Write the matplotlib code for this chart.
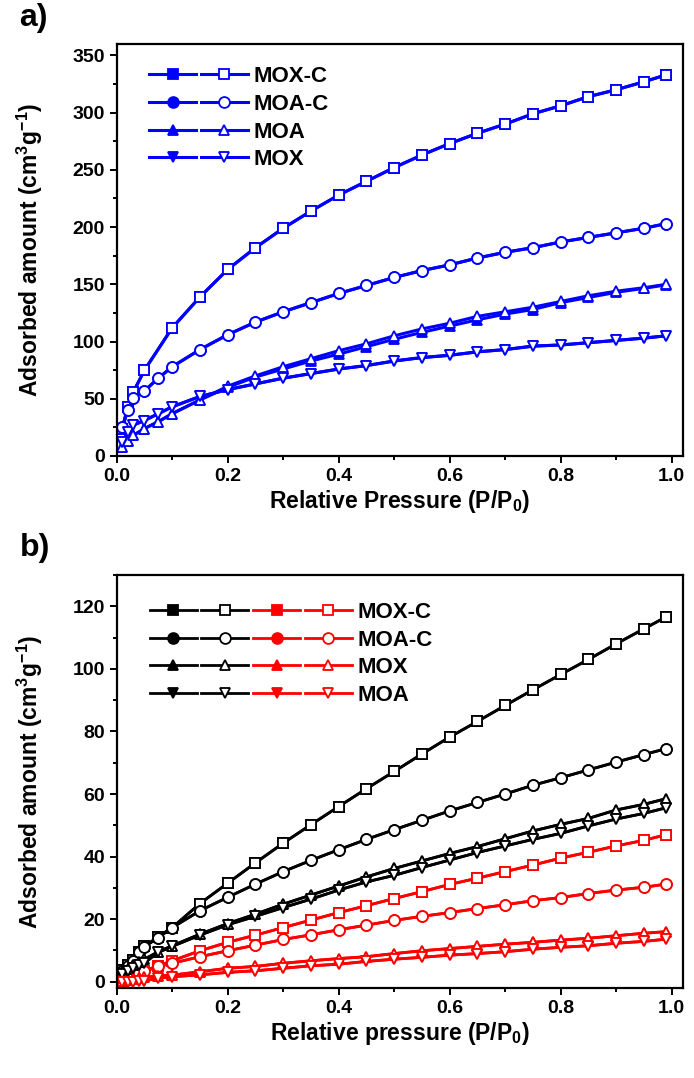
import numpy as np
import matplotlib
matplotlib.use("Agg")
import matplotlib.pyplot as plt
from matplotlib.legend_handler import HandlerTuple
from matplotlib.ticker import MultipleLocator

plt.rcParams["font.family"] = ["Liberation Sans", "DejaVu Sans"]
plt.rcParams["font.weight"] = "bold"
plt.rcParams["axes.labelweight"] = "bold"
plt.rcParams["mathtext.fontset"] = "custom"
plt.rcParams["mathtext.rm"] = "Liberation Sans:bold"
plt.rcParams["mathtext.bf"] = "Liberation Sans:bold"
plt.rcParams["mathtext.default"] = "rm"

# ---- panel a data ----
p_a = [0.01, 0.02, 0.03, 0.05, 0.075, 0.1, 0.15, 0.2, 0.25, 0.3, 0.35, 0.4, 0.45,
       0.5, 0.55, 0.6, 0.65, 0.7, 0.75, 0.8, 0.85, 0.9, 0.95, 0.99]
p_a_moxc = [0.01, 0.02, 0.03, 0.05, 0.1, 0.15, 0.2, 0.25, 0.3, 0.35, 0.4, 0.45,
            0.5, 0.55, 0.6, 0.65, 0.7, 0.75, 0.8, 0.85, 0.9, 0.95, 0.99]
moxc_a = [24, 43, 56, 75, 112, 139, 163, 182, 199, 214, 228, 240,
          252, 263, 273, 282, 290, 299, 306, 314, 320, 327, 333]
moac_a = [25, 40, 51, 57, 68, 78, 93, 106, 117, 126, 134, 142, 149,
          156, 162, 167, 173, 178, 182, 187, 191, 195, 199, 203]
moa_a_ads = [8, 13, 18, 24, 30, 37, 49, 60, 69, 76, 83, 89, 95.5,
             102, 108, 113.5, 119, 124, 128, 134, 138.5, 143, 146.5, 149.5]
moa_a_des = [8, 13, 18, 24, 30, 37, 49, 61, 70, 78, 85, 92, 98,
             105, 111, 116, 122, 126, 130, 135, 140, 144, 147, 150]
mox_a = [12, 21, 27, 31, 37, 43, 52, 58, 63, 68, 72, 76, 79,
         83, 86, 88, 91, 93, 96, 97, 99, 101, 103, 105]
labels_a = ["MOX-C", "MOA-C", "MOA", "MOX"]

# ---- panel b data ----
p_b = [0.01, 0.02, 0.03, 0.04, 0.05, 0.075, 0.1, 0.15, 0.2, 0.25, 0.3, 0.35, 0.4,
       0.45, 0.5, 0.55, 0.6, 0.65, 0.7, 0.75, 0.8, 0.85, 0.9, 0.95, 0.99]
moxc_b_black = [3.8, 5.5, 7.0, 9.4, 11.3, 14.4, 17.3, 25, 31.5, 38, 44.3, 50.2, 56,
                61.7, 67.2, 72.8, 78.2, 83.2, 88.3, 93.3, 98.2, 103, 108, 112.8, 116.6]
moac_b_black = [3.5, 5.0, 6.7, 9.4, 11.2, 14.1, 17.3, 22.7, 27, 31.2, 35.2, 38.8, 42.2,
                45.5, 48.6, 51.6, 54.6, 57.3, 60, 62.8, 65.2, 67.7, 70.2, 72.6, 74.5]
mox_b_black = [3, 4.2, 5.3, 6.3, 7.2, 9.6, 11.5, 15.2, 18.6, 21.6, 24.8, 27.7, 30.6,
               33.5, 36.2, 38.6, 41, 43.2, 45.7, 48.2, 50.3, 52.2, 54.9, 56.7, 58.5]
moa_b_black = [2.4, 3.4, 4.3, 5.2, 6, 9.4, 11.3, 14.9, 18.2, 20.9, 23.7, 26.4, 29.3,
               31.9, 34, 36.5, 38.9, 41.3, 43.4, 45.5, 47.4, 49.8, 52, 53.8, 55.6]
moxc_b_red = [0.6, 1.3, 2.1, 2.8, 3.5, 5.1, 6.7, 9.9, 12.6, 14.9, 17.3, 19.7, 22.1,
              24.3, 26.6, 28.8, 31.1, 33.1, 35.2, 37.3, 39.5, 41.4, 43.4, 45.2, 47]
moac_b_red = [1.4, 1.9, 2.4, 2.9, 3.3, 4.9, 5.9, 8, 9.9, 11.7, 13.5, 15, 16.6,
              18.1, 19.6, 20.9, 22.1, 23.4, 24.6, 25.9, 26.9, 28.2, 29.3, 30.2, 31.2]
mox_b_red = [0.3, 0.6, 0.9, 1.2, 1.4, 1.9, 2.1, 3.2, 4.3, 4.9, 5.9, 6.7, 7.4,
             8, 9, 9.9, 10.6, 11.3, 12, 12.6, 13.3, 13.9, 14.7, 15.5, 16]
moa_b_red = [-0.2, -0.1, 0, 0.1, 0.3, 1.1, 1.6, 2.2, 3, 3.5, 4.3, 5.1, 5.6,
             6.5, 7.2, 7.8, 8.5, 9, 9.6, 10.4, 11, 11.5, 12.3, 12.9, 13.6]
labels_b = ["MOX-C", "MOA-C", "MOX", "MOA"]


def pair(ax, x, y_ads, y_des, color, marker, lw=2.2):
    """filled marker = adsorption, open marker = desorption"""
    l1, = ax.plot(x, y_ads, color=color, lw=lw, marker=marker, ms=7.8,
                  mfc=color, mec=color, mew=1.3)
    l2, = ax.plot(x, y_des, color=color, lw=lw, marker=marker, ms=7.8,
                  mfc="white", mec=color, mew=1.3)
    return l1, l2


def style_axes(ax):
    for s in ax.spines.values():
        s.set_linewidth(1.6)
    ax.tick_params(which="both", direction="out", width=1.4, labelsize=14)
    ax.tick_params(which="major", length=5)
    ax.tick_params(which="minor", length=3)
    ax.xaxis.set_major_locator(MultipleLocator(0.2))
    ax.xaxis.set_minor_locator(MultipleLocator(0.1))
    ax.set_xlim(0, 1.02)
    ax.xaxis.set_major_formatter(matplotlib.ticker.FormatStrFormatter("%.1f"))


fig = plt.figure(figsize=(6.94, 10.78), dpi=100)

# ---------------- panel a ----------------
ax = fig.add_axes([0.1682, 0.577, 0.8156, 0.3822])
h_a = [
    pair(ax, p_a_moxc, moxc_a, moxc_a, "#0000ff", "s"),
    pair(ax, p_a, moac_a, moac_a, "#0000ff", "o"),
    pair(ax, p_a, moa_a_ads, moa_a_des, "#0000ff", "^"),
    pair(ax, p_a, mox_a, mox_a, "#0000ff", "v"),
]
style_axes(ax)
ax.set_ylim(0, 360)
ax.yaxis.set_major_locator(MultipleLocator(50))
ax.yaxis.set_minor_locator(MultipleLocator(25))
ax.set_xlabel(r"Relative Pressure (P/P$_0$)", fontsize=16.5, labelpad=2)
ax.set_ylabel(r"Adsorbed amount (cm$^3$g$^{-1}$)", fontsize=16.5, labelpad=20)
ax.legend(h_a, labels_a, handler_map={tuple: HandlerTuple(ndivide=None, pad=0.2)},
          loc="upper left", bbox_to_anchor=(0.057, 0.946), frameon=False,
          borderpad=0, borderaxespad=0, handlelength=4.45, handletextpad=0.25,
          labelspacing=0.3, fontsize=16, numpoints=1)

# ---------------- panel b ----------------
bx = fig.add_axes([0.1682, 0.0835, 0.8156, 0.3831])
blk = [("s", moxc_b_black), ("o", moac_b_black), ("^", mox_b_black), ("v", moa_b_black)]
red = [("s", moxc_b_red), ("o", moac_b_red), ("^", mox_b_red), ("v", moa_b_red)]
h_b = []
for (mk, yb), (_, yr) in zip(blk, red):
    kb = pair(bx, p_b, yb, yb, "black", mk, lw=2.0)
    kr = pair(bx, p_b, yr, yr, "#ff0000", mk, lw=2.0)
    h_b.append(kb + kr)
style_axes(bx)
bx.set_ylim(-2, 130)
bx.yaxis.set_major_locator(MultipleLocator(20))
bx.yaxis.set_minor_locator(MultipleLocator(10))
bx.set_xlabel(r"Relative pressure (P/P$_0$)", fontsize=16.5, labelpad=2)
bx.set_ylabel(r"Adsorbed amount (cm$^3$g$^{-1}$)", fontsize=16.5, labelpad=20)
bx.legend(h_b, labels_b, handler_map={tuple: HandlerTuple(ndivide=None, pad=0.2)},
          loc="upper left", bbox_to_anchor=(0.058, 0.935), frameon=False,
          borderpad=0, borderaxespad=0, handlelength=9.1, handletextpad=0.25,
          labelspacing=0.3, fontsize=16, numpoints=1)

fig.text(0.028, 0.983, "a)", fontsize=23, fontweight="bold", va="center")
fig.text(0.028, 0.492, "b)", fontsize=23, fontweight="bold", va="center")

fig.savefig("out.png", dpi=100)
